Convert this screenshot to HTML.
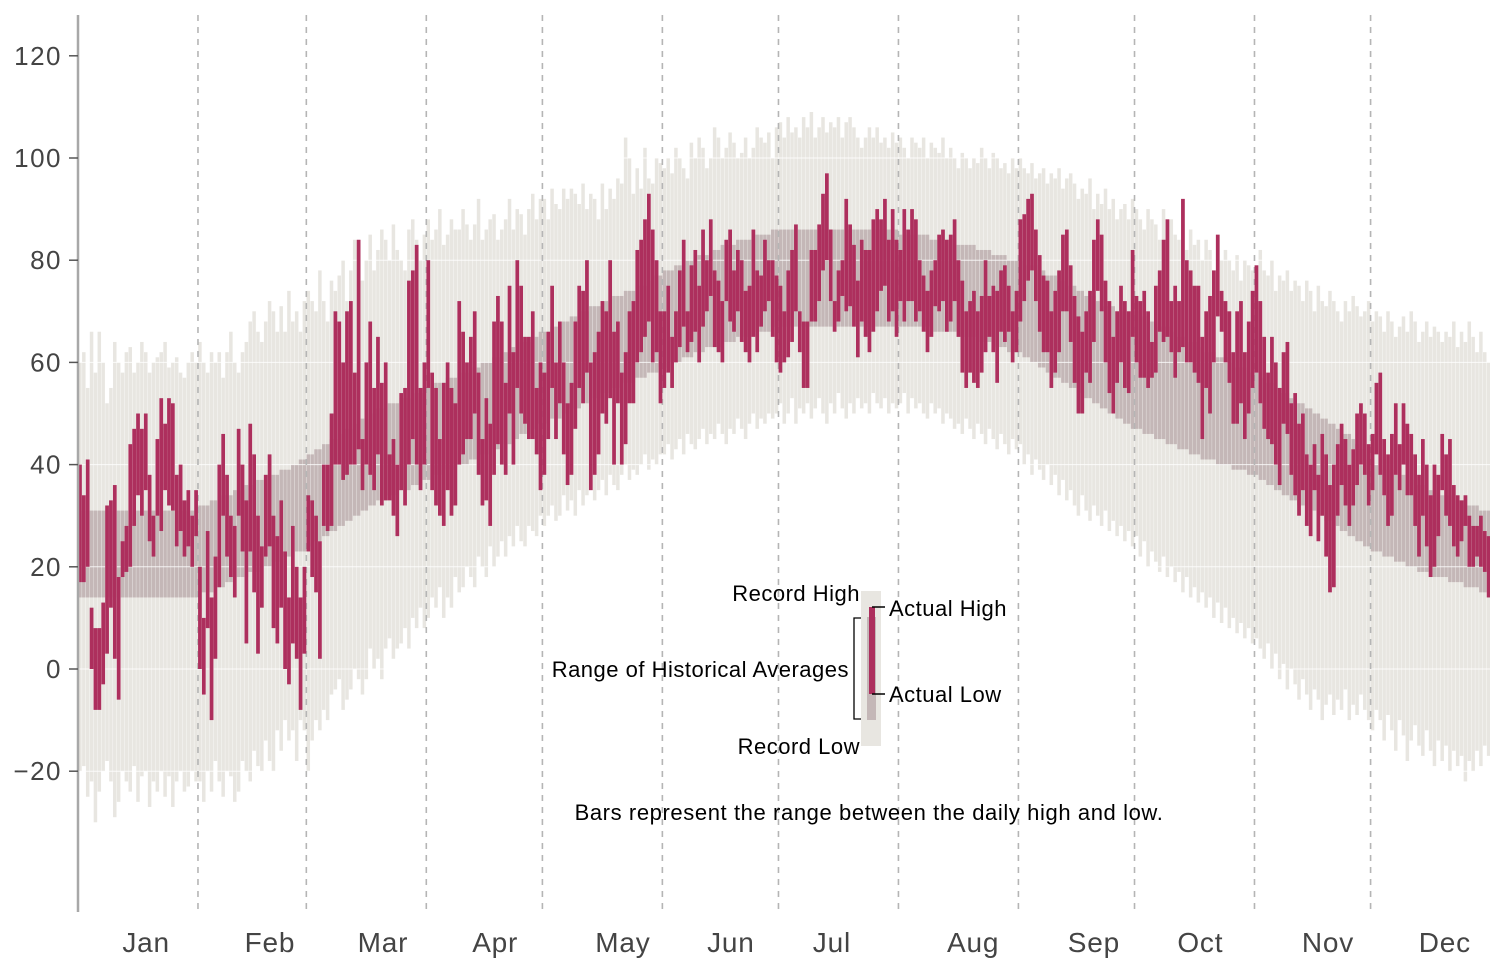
<!DOCTYPE html>
<html><head><meta charset="utf-8"><style>
html,body{margin:0;padding:0;background:#fff;}
svg{display:block;font-family:"Liberation Sans",sans-serif;}
</style></head><body>
<svg id="chart" width="1490" height="978" viewBox="0 0 1490 978" xmlns="http://www.w3.org/2000/svg">
<g id="rec"></g>
<g id="avg"></g>
<g id="grid"></g>
<g id="months"></g>
<g id="act"></g>
<g id="axis"></g>
<g id="xlab"></g>
<g font-size="22" letter-spacing="0.5">
  <rect x="861" y="591" width="20" height="155" fill="#e8e6e1"/>
  <rect x="867" y="617" width="9" height="103" fill="#c4b7b7"/>
  <rect x="869" y="607" width="6" height="87" fill="#ad2f5d"/>
  <path d="M861 618 H854 V719 H861" fill="none" stroke="#000" stroke-width="1.3"/>
  <line x1="872" y1="607" x2="885" y2="607" stroke="#000" stroke-width="1.5"/>
  <line x1="872" y1="694" x2="885" y2="694" stroke="#000" stroke-width="1.5"/>
  <text x="860" y="601" text-anchor="end">Record High</text>
  <text x="849" y="677" text-anchor="end">Range of Historical Averages</text>
  <text x="860" y="754" text-anchor="end">Record Low</text>
  <text x="889" y="616">Actual High</text>
  <text x="889" y="702">Actual Low</text>
</g>
<text x="869" y="820" font-size="22" letter-spacing="0.6" text-anchor="middle">Bars represent the range between the daily high and low.</text>
</svg>
<script>
const recHigh=[60,62,55,66,58,66,60,52,55,64,60,58,62,63,58,60,64,62,58,60,61,62,64,59,60,61,58,57,60,62,60,
64,60,58,62,60,62,57,62,66,60,58,62,64,68,70,66,64,68,72,70,66,71,66,74,68,70,66,72,
74,72,70,78,72,68,76,74,77,80,72,78,84,82,76,80,85,78,82,86,84,80,87,82,80,78,86,88,84,80,85,
88,84,86,90,83,85,88,86,86,90,87,84,87,92,84,86,88,89,84,86,88,92,86,90,89,85,90,93,88,92,
92,88,94,91,90,94,92,94,93,91,95,90,93,92,88,95,90,94,92,96,95,104,100,93,98,94,102,96,95,100,99,
98,100,97,102,100,98,96,103,100,104,102,98,100,106,104,100,102,105,103,100,101,104,100,102,106,104,103,105,100,106,
107,104,108,105,106,104,108,106,109,104,106,108,105,107,106,108,104,107,108,106,104,102,104,106,104,106,103,104,102,105,103,
104,102,100,104,103,102,104,100,103,102,101,104,100,102,100,98,101,100,98,100,99,102,100,98,101,100,98,99,97,100,98,
100,98,97,99,96,97,98,95,97,96,98,94,96,97,95,92,94,93,96,90,93,91,94,90,92,88,90,91,88,92,
90,88,86,90,88,87,84,90,86,88,85,84,87,82,86,83,84,80,84,82,78,84,80,82,80,78,81,76,80,79,78,
79,82,78,77,80,74,77,76,78,74,76,75,72,76,74,70,75,72,71,74,72,70,68,72,70,73,71,69,70,72,
68,70,69,66,70,68,65,67,69,66,70,68,64,66,68,65,67,66,64,66,65,68,63,66,64,68,65,62,66,62,60];
const recLow=[-20,-19,-25,-22,-30,-24,-20,-18,-22,-29,-26,-20,-22,-24,-19,-26,-21,-20,-27,-22,-24,-20,-25,-21,-27,-22,-20,-24,-23,-20,-22,
-22,-26,-20,-24,-18,-22,-25,-20,-21,-26,-24,-18,-20,-22,-16,-19,-20,-14,-18,-20,-12,-16,-10,-14,-12,-18,-10,-12,
-20,-14,-10,-12,-8,-10,-5,-4,-2,-8,-6,-4,0,-2,-5,-2,4,0,2,-2,4,6,2,4,5,8,4,10,8,12,8,
10,14,12,16,10,14,12,18,15,16,20,18,16,22,20,18,24,20,22,25,22,26,24,28,25,24,28,27,26,30,
28,30,32,29,30,34,31,33,30,35,32,34,36,33,35,37,34,38,36,35,38,40,37,39,38,40,42,39,41,40,42,
42,44,41,43,45,42,46,44,43,45,47,44,46,45,48,46,44,47,46,49,47,45,48,50,47,49,48,50,49,50,
52,48,50,53,48,51,50,52,49,51,53,50,48,52,50,54,51,49,52,50,53,51,52,50,54,52,51,53,50,52,51,
52,54,50,53,51,52,50,49,52,50,51,48,50,49,47,48,46,49,47,45,48,46,44,47,45,43,46,44,42,45,43,
44,40,42,38,41,39,37,40,36,38,34,37,33,35,32,30,34,31,29,32,30,28,31,27,29,26,28,25,27,24,
26,22,25,20,23,21,19,22,18,20,17,19,15,18,14,16,13,15,12,14,10,13,9,12,8,10,7,9,6,8,5,
6,4,2,5,0,3,-2,1,-4,0,-3,-6,-2,-5,-8,-4,-6,-10,-7,-5,-9,-6,-8,-4,-10,-7,-9,-5,-8,-10,
-12,-8,-10,-14,-9,-12,-16,-10,-13,-18,-14,-11,-15,-17,-12,-16,-19,-14,-18,-15,-20,-16,-19,-17,-22,-18,-20,-16,-19,-15,-17];
const avgLow=[14,14,14,14,14,14,14,14,14,14,14,14,14,14,14,14,14,14,14,14,14,14,14,14,14,14,14,14,14,14,14,
15,15,15,15,16,16,16,17,17,17,18,18,18,19,19,19,20,20,20,21,21,21,22,22,22,23,23,23,
24,24,25,25,26,26,27,27,28,28,29,29,30,30,31,31,32,32,33,33,33,34,34,34,35,35,35,36,36,36,37,
37,37,38,38,38,39,39,39,40,40,40,41,41,41,42,42,42,43,43,43,44,44,45,45,46,46,46,47,47,48,
48,48,49,49,49,50,50,51,51,51,52,52,53,53,53,54,54,54,55,55,55,56,56,56,57,57,57,58,58,58,59,
59,59,60,60,60,61,61,61,62,62,62,63,63,63,63,64,64,64,64,65,65,65,65,66,66,66,66,66,67,67,
67,67,67,67,67,67,67,67,67,67,67,67,67,67,67,67,67,67,67,67,67,67,67,67,67,67,67,67,67,67,67,
67,67,67,67,67,67,67,67,66,66,66,66,66,66,66,65,65,65,65,65,64,64,64,64,63,63,63,63,62,62,62,
62,61,61,60,60,59,59,58,58,57,57,56,56,55,55,54,54,53,53,52,52,51,51,50,50,49,49,48,48,47,
47,47,46,46,46,45,45,45,44,44,44,43,43,43,42,42,42,41,41,41,41,40,40,40,40,39,39,39,39,38,38,
38,37,37,36,36,35,35,34,34,33,33,32,32,32,31,31,30,30,29,29,28,28,27,27,26,26,25,25,24,24,
23,23,23,22,22,22,21,21,21,20,20,20,19,19,19,19,18,18,18,18,17,17,17,17,16,16,16,16,15,15,15];
const avgHigh=[31,31,31,31,31,31,31,31,31,31,31,31,31,31,31,31,31,31,31,31,31,31,31,31,31,31,31,31,31,31,31,
32,32,32,33,33,33,34,34,34,35,35,35,36,36,36,37,37,37,38,38,38,39,39,39,40,40,41,41,
42,42,43,43,44,44,45,45,46,46,47,47,48,48,49,49,50,50,51,51,51,52,52,52,53,53,53,54,54,54,55,
55,55,56,56,56,57,57,57,58,58,58,59,59,59,60,60,60,61,61,61,62,62,63,63,64,64,64,65,65,66,
66,66,67,67,67,68,68,69,69,69,70,70,71,71,71,72,72,72,73,73,73,74,74,74,75,75,75,76,76,77,77,
78,78,78,79,79,79,80,80,80,81,81,81,82,82,82,83,83,83,83,84,84,84,84,85,85,85,85,85,86,86,
86,86,86,86,86,86,86,86,86,86,86,86,86,86,86,86,86,86,86,86,86,86,86,86,86,86,86,86,86,86,86,
85,85,85,85,85,85,85,85,84,84,84,84,84,84,84,83,83,83,83,83,82,82,82,82,81,81,81,81,80,80,80,
80,80,79,79,79,78,78,77,77,77,76,76,75,75,75,74,74,73,73,73,72,72,71,71,71,70,70,70,70,70,
70,69,69,69,68,68,67,67,67,66,66,65,65,64,64,64,63,63,62,62,62,61,61,61,60,60,59,59,59,58,58,
58,57,57,56,56,55,55,54,54,53,53,52,52,51,51,50,50,49,49,48,48,47,47,46,46,45,44,43,42,41,
40,40,40,39,39,39,38,38,38,37,37,37,36,36,36,35,35,35,34,34,34,33,33,33,32,32,32,32,31,31,31];
const actHigh=[40,34,41,12,8,8,13,32,33,36,18,25,28,44,47,50,47,50,38,30,45,53,48,53,52,38,40,33,35,30,35,
20,10,27,14,22,40,46,38,30,28,47,40,33,48,42,30,24,38,42,30,26,33,23,14,28,20,14,20,
34,33,30,25,40,40,50,70,68,60,70,72,58,84,45,60,68,55,65,56,60,42,45,40,54,55,76,78,83,55,60,
80,58,55,45,56,60,55,52,72,66,60,65,70,58,45,53,48,68,73,68,56,75,62,80,75,65,65,70,55,60,
58,66,75,60,68,60,52,56,68,75,74,80,60,62,66,72,70,80,66,68,58,62,70,72,82,84,88,93,86,80,70,
70,75,65,70,78,84,70,79,82,75,86,80,88,78,76,72,84,86,78,82,80,74,75,86,78,77,84,80,80,77,
75,70,78,82,87,70,68,68,82,82,87,93,97,86,72,78,80,92,87,83,76,84,82,82,88,90,88,92,84,90,84,
82,90,86,90,88,80,77,74,78,80,85,86,84,85,88,80,76,70,72,74,70,73,80,73,75,74,78,79,75,70,74,
88,89,92,93,86,81,77,76,70,74,78,85,86,79,73,69,66,70,74,84,88,85,76,72,65,70,75,72,70,82,
73,72,74,70,64,75,78,84,88,72,75,72,92,80,78,75,75,65,70,73,78,85,74,72,70,62,70,72,62,68,74,
79,72,65,58,65,60,55,62,64,52,54,48,50,42,40,44,38,46,42,36,40,44,48,45,40,43,50,52,50,44,
46,56,58,45,42,46,52,44,52,48,46,42,38,45,40,34,40,38,46,42,45,36,34,33,34,30,28,28,30,27,26];
const actLow=[17,17,20,0,-8,-8,-3,3,12,2,-6,18,19,20,28,34,30,35,25,22,30,27,35,32,31,24,27,22,24,20,26,
0,-5,8,-10,2,16,30,22,18,14,30,23,5,23,15,3,12,22,24,8,5,12,0,-3,5,2,-8,3,
23,18,15,2,28,27,28,40,40,37,38,40,40,43,35,40,38,35,42,32,33,33,30,26,35,32,40,45,40,35,40,
55,35,32,30,28,35,30,32,40,42,45,45,50,38,32,33,28,38,44,40,38,50,40,55,50,48,45,45,42,35,
38,45,55,45,52,42,36,38,47,55,52,58,35,38,42,50,48,53,40,52,40,44,52,52,60,62,65,68,60,62,52,
55,58,55,60,63,67,62,64,66,60,67,70,73,63,62,60,72,68,66,70,64,62,60,65,62,67,70,72,65,60,
58,60,61,64,70,62,55,55,68,68,72,78,80,72,66,68,73,70,71,67,61,68,65,62,66,70,74,75,68,70,65,
72,68,72,72,68,70,66,62,65,71,70,72,66,68,72,65,58,55,58,56,55,58,62,65,62,56,66,64,66,60,62,
68,72,76,78,72,66,62,62,55,58,62,70,70,64,56,50,50,58,56,64,74,70,60,54,50,56,60,55,54,65,
60,57,57,55,57,58,66,64,65,62,57,62,63,60,60,58,56,45,55,50,60,69,66,60,56,48,48,52,45,50,55,
58,52,47,45,44,40,36,48,46,38,34,30,35,28,26,35,25,30,22,15,16,30,36,32,28,32,36,40,38,32,
35,42,38,34,28,30,38,35,40,34,34,28,22,30,24,18,20,26,35,30,28,24,22,25,28,20,20,22,20,19,14];
const yTicks=[120,100,80,60,40,20,0,-20];
const gridVals=[100,80,60,40,20,0,-20];
const monthStartDays=[31,59,90,120,151,181,212,243,273,304,334];
const monthNames=["Jan","Feb","Mar","Apr","May","Jun","Jul","Aug","Sep","Oct","Nov","Dec"];
const monthLabelDays=[17.6,49.6,78.8,107.8,140.8,168.7,194.8,231.3,262.5,290,323,353.2];

const NS="http://www.w3.org/2000/svg";
const X0=78, DAY=3.87, Y0=669, PPU=5.11;
function xs(d){return X0+d*DAY;}
function ys(v){return Y0-v*PPU;}
function mk(tag,attrs,parent){const e=document.createElementNS(NS,tag);for(const k in attrs)e.setAttribute(k,attrs[k]);parent.appendChild(e);return e;}
const gRec=document.getElementById('rec'),gAvg=document.getElementById('avg'),gAct=document.getElementById('act');
const gGrid=document.getElementById('grid'),gMon=document.getElementById('months'),gAx=document.getElementById('axis'),gX=document.getElementById('xlab');
function bars(g,hi,lo,color,w,off,name){
  const n=Math.min(hi.length,lo.length);
  for(let i=0;i<n;i++){
    const t=ys(Math.max(hi[i],lo[i])),b=ys(Math.min(hi[i],lo[i]));
    const r=mk('rect',{x:(xs(i)+off).toFixed(2),y:t.toFixed(2),width:w,height:Math.max(1,b-t).toFixed(2),fill:color},g);
    
    
  }
}
bars(gRec,recHigh,recLow,'#e8e6e1',3.5,0.2,'record-bar');
bars(gAvg,avgHigh,avgLow,'#c4b7b7',3.5,0.2,'average-bar');
gridVals.forEach(v=>{
  const l=mk('line',{x1:79,x2:1490,y1:ys(v),y2:ys(v),stroke:'#fff','stroke-width':1,'stroke-opacity':0.8},gGrid);
  
  
});
monthStartDays.forEach(d=>{
  const l=mk('line',{x1:xs(d),x2:xs(d),y1:15,y2:912,stroke:'#b5b5b5','stroke-width':1.6,'stroke-dasharray':'6,6'},gMon);
  
  
});
bars(gAct,actHigh,actLow,'#ad2f5d',3.75,0.1,'actual-bar');
const ax=mk('line',{x1:78,x2:78,y1:15,y2:912,stroke:'#a8a8a8','stroke-width':2.5},gAx);


yTicks.forEach(v=>{
  const t=mk('line',{x1:69,x2:78,y1:ys(v),y2:ys(v),stroke:'#555','stroke-width':1.5},gAx);
  
  
  const tx=mk('text',{x:62,y:ys(v)+9,'font-size':26,'letter-spacing':1.5,'text-anchor':'end',fill:'#444'},gAx);
  tx.textContent=(v<0?'\u2212'+(-v):String(v));
  
  
});
monthNames.forEach((m,i)=>{
  const tx=mk('text',{x:xs(monthLabelDays[i]),y:952,'font-size':28,'letter-spacing':0.8,'text-anchor':'middle',fill:'#444'},gX);
  tx.textContent=m;
  
  
});
</script>
</body></html>
